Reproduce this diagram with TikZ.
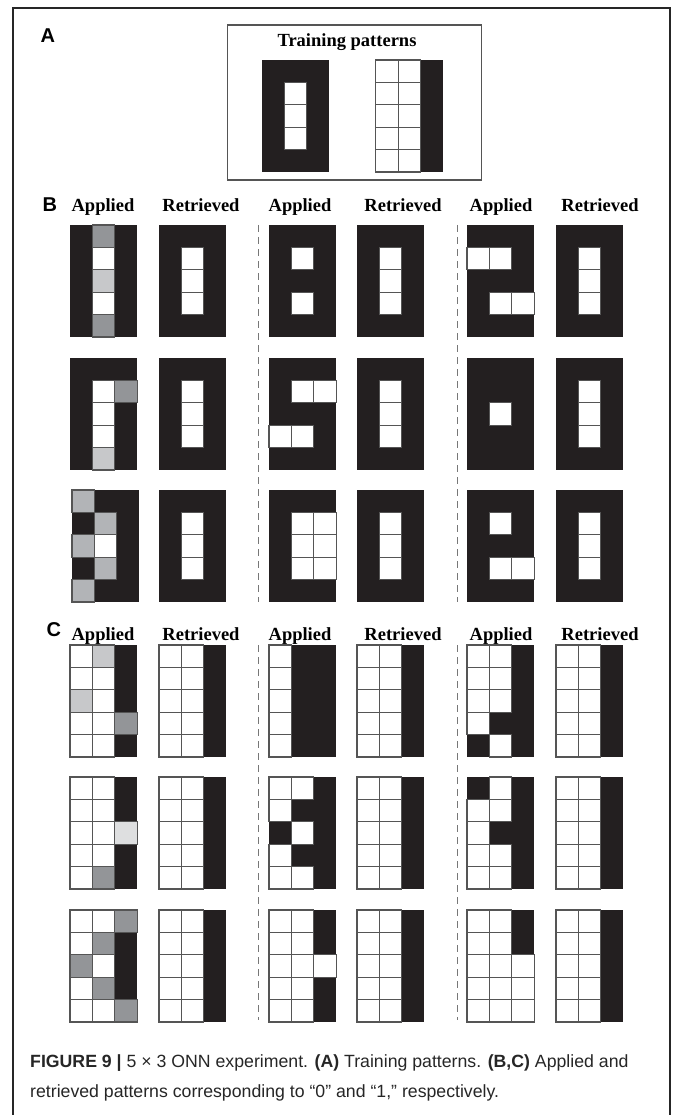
\documentclass[tikz,border=0pt]{standalone}
\usepackage{fontspec}
\setmainfont{Liberation Serif}
\setsansfont{Liberation Sans}
\usetikzlibrary{positioning}
\definecolor{cell0}{HTML}{FFFFFF}
\definecolor{cell1}{HTML}{231F20}
\definecolor{cell2}{HTML}{939598}
\definecolor{cell3}{HTML}{C7C8CA}
\definecolor{cell4}{HTML}{DEDFE0}
\definecolor{cell5}{HTML}{B2B4B7}
\definecolor{gridgray}{HTML}{555555}
\newcommand{\cellw}{22.4}
\newcommand{\pzero}{1,1,1,1,0,1,1,0,1,1,0,1,1,1,1}
\newcommand{\pone}{0,0,1,0,0,1,0,0,1,0,0,1,0,0,1}
% 5x3 pattern: #1 left, #2 top, #3 codes row by row
\newcommand{\pat}[3]{\edef\patlist{#3}
  \foreach \c [count=\i from 0] in \patlist {
    \pgfmathtruncatemacro{\cc}{mod(\i,3)}\pgfmathtruncatemacro{\rr}{div(\i,3)}
    \fill[cell\c] (#1+\cc*\cellw,#2+\rr*\cellw) rectangle ++(\cellw,\cellw);}
  \foreach \c [count=\i from 0] in \patlist {
    \pgfmathtruncatemacro{\cc}{mod(\i,3)}\pgfmathtruncatemacro{\rr}{div(\i,3)}
    \ifnum\c=1 \else \draw[gridgray, line width=1.1pt] (#1+\cc*\cellw,#2+\rr*\cellw) rectangle ++(\cellw,\cellw);\fi}}

\begin{document}
\begin{tikzpicture}[x=1pt, y=-1pt,
  hdr/.style={font=\bfseries\fontsize{18.5}{20}\selectfont, anchor=base},
  panel/.style={font=\sffamily\bfseries\fontsize{20}{22}\selectfont, anchor=base west},
  sep/.style={gridgray!80, line width=1.1pt, dash pattern=on 7pt off 5pt},
  capt/.style={font=\sffamily\fontsize{17.7}{20}\selectfont, text=black!85, anchor=base west, inner sep=0pt}]
  \useasboundingbox (0,0) rectangle (672,1115);
  \draw[line width=1.3pt, black!85] (13,1117) |- (670,8) -- (670,1117);
  % ------------------------------------------------------------------ (A) training
  \node[panel] (labA) at (37,43) {A};
  \draw[line width=1.1pt, gridgray] (227.7,25) rectangle (481.7,180);
  \node[hdr] (train) at (347,46.5) {Training patterns};
  \pat{261.7}{60}{\pzero}
  \pat{375.7}{60}{\pone}
  % ------------------------------------------------------------------ (B) zero
  \node[panel] (labB) at (39,212) {B};
  \foreach \k/\hx/\txt in {1/103/Applied,2/201/Retrieved,3/300/Applied,4/403/Retrieved,5/501/Applied,6/600/Retrieved}
    {\node[hdr] (hB\k) at (\hx,212) {\txt};}
  \foreach \sx in {258.5,457.8} {\draw[sep] (\sx,225) -- (\sx,602);}
  \foreach \ry in {225,358,490} {\pat{159}{\ry}{\pzero} \pat{357}{\ry}{\pzero} \pat{556}{\ry}{\pzero}}
  \pat{70}{225}{1,2,1,1,0,1,1,3,1,1,0,1,1,2,1}
  \pat{269}{225}{1,1,1,1,0,1,1,1,1,1,0,1,1,1,1}
  \pat{467}{225}{1,1,1,0,0,1,1,1,1,1,0,0,1,1,1}
  \pat{70}{358}{1,1,1,1,0,2,1,0,1,1,0,1,1,3,1}
  \pat{269}{358}{1,1,1,1,0,0,1,1,1,0,0,1,1,1,1}
  \pat{467}{358}{1,1,1,1,1,1,1,0,1,1,1,1,1,1,1}
  \pat{72}{490}{5,1,1,1,5,1,5,0,1,1,5,1,5,1,1}
  \pat{269}{490}{1,1,1,1,0,0,1,0,0,1,0,0,1,1,1}
  \pat{467}{490}{1,1,1,1,0,1,1,1,1,1,0,0,1,1,1}
  % ------------------------------------------------------------------ (C) one
  \node[panel] (labC) at (43,636) {C};
  \foreach \k/\hx/\txt in {1/103/Applied,2/201/Retrieved,3/300/Applied,4/403/Retrieved,5/501/Applied,6/600/Retrieved}
    {\node[hdr] (hC\k) at (\hx,640) {\txt};}
  \foreach \sx in {258.5,457.8} {\draw[sep] (\sx,645) -- (\sx,1020);}
  \foreach \ry in {645,777,910} {\pat{159}{\ry}{\pone} \pat{357}{\ry}{\pone} \pat{556}{\ry}{\pone}}
  \pat{70}{645}{0,3,1,0,0,1,3,0,1,0,0,2,0,0,1}
  \pat{269}{645}{0,1,1,0,1,1,0,1,1,0,1,1,0,1,1}
  \pat{467}{645}{0,0,1,0,0,1,0,0,1,0,1,1,1,0,1}
  \pat{70}{777}{0,0,1,0,0,1,0,0,4,0,0,1,0,2,1}
  \pat{269}{777}{0,0,1,0,1,1,1,0,1,0,1,1,0,0,1}
  \pat{467}{777}{1,0,1,0,0,1,0,1,1,0,0,1,0,0,1}
  \pat{70}{910}{0,0,2,0,2,1,2,0,1,0,2,1,0,0,2}
  \pat{269}{910}{0,0,1,0,0,1,0,0,0,0,0,1,0,0,1}
  \pat{467}{910}{0,0,1,0,0,1,0,0,0,0,0,0,0,0,0}
  % ------------------------------------------------------------------ caption
  \node[capt] (cap1) at (30,1067) {\textbf{FIGURE 9 |} 5 × 3 ONN experiment. \textbf{(A)} Training patterns. \textbf{(B,C)} Applied and};
  \node[capt] (cap2) at (30,1097) {retrieved patterns corresponding to “0” and “1,” respectively.};
\end{tikzpicture}
\end{document}
